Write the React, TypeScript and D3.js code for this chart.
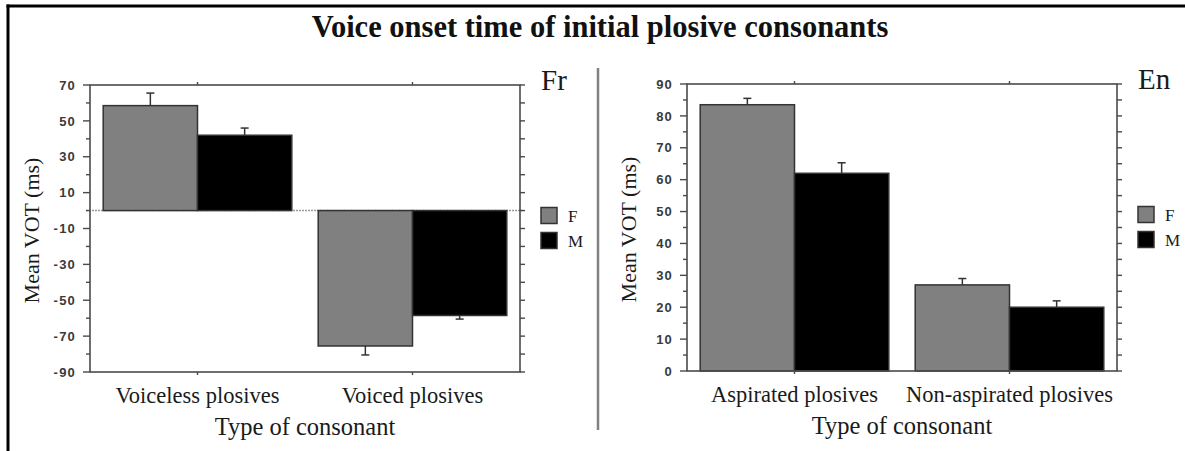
import * as d3 from "d3";

const width = 1185;
const height = 451;

const groups = ["F", "M"];

// French panel
const frCategories = ["Voiceless plosives", "Voiced plosives"];
const frF = [58.5, -75.5];
const frM = [42, -58.5];
const frErrF = [7, 5];
const frErrM = [4, 2];
const frTicks = [-90, -70, -50, -30, -10, 10, 30, 50, 70];
const frMinor = [-80, -60, -40, -20, 0, 20, 40, 60];

// English panel
const enCategories = ["Aspirated plosives", "Non-aspirated plosives"];
const enF = [83.5, 27];
const enM = [62, 20];
const enErrF = [2, 2];
const enErrM = [3.3, 2];
const enTicks = [0, 10, 20, 30, 40, 50, 60, 70, 80, 90];
const enMinor = [5, 15, 25, 35, 45, 55, 65, 75, 85];

const fills: Record<string, string> = { F: "#808080", M: "#000000" };
const axisColor = "#4a4a4a";
const serif = "'Liberation Serif', 'Times New Roman', serif";
const sans = "'Liberation Sans', Arial, sans-serif";

type PanelProps = {
  left: number;
  top: number;
  categories: string[];
  fVals: number[];
  mVals: number[];
  fErr: number[];
  mErr: number[];
  domain: [number, number];
  ticks: number[];
  minor: number[];
  tag: string;
  zeroLine: boolean;
};

const pw = 430;
const ph = 287;

const Panel = ({ left, top, categories, fVals, mVals, fErr, mErr, domain, ticks, minor, tag, zeroLine }: PanelProps) => {
  const x = d3.scaleBand().domain(categories).range([left, left + pw]).padding(0);
  const xs = d3.scaleBand().domain(groups).range([0, x.bandwidth()]).paddingInner(0).paddingOuter(0.14);
  const y = d3.scaleLinear().domain(domain).range([top + ph, top]);
  const allTicks = [...ticks, ...minor];

  const bars = categories.flatMap((c, i) =>
    groups.map((g) => {
      const v = g === "F" ? fVals[i] : mVals[i];
      const e = g === "F" ? fErr[i] : mErr[i];
      const bx = (x(c) ?? 0) + (xs(g) ?? 0);
      const end = v + Math.sign(v) * e;
      return { key: c + g, g, bx, bw: xs.bandwidth(), y0: y(Math.max(0, v)), y1: y(Math.min(0, v)), yv: y(v), ye: y(end) };
    })
  );

  const right = left + pw;
  const bottom = top + ph;
  const midY = (top + bottom) / 2;

  return (
    <g>
      {zeroLine && (
        <line x1={left - 4} x2={right + 4} y1={y(0)} y2={y(0)} stroke="#9a9a9a" strokeWidth={1.5} strokeDasharray="2,1" />
      )}
      {bars.map((b) => (
        <g key={b.key}>
          <line x1={b.bx + b.bw / 2} x2={b.bx + b.bw / 2} y1={b.yv} y2={b.ye} stroke="#333" strokeWidth={1.5} />
          <line x1={b.bx + b.bw / 2 - 4} x2={b.bx + b.bw / 2 + 4} y1={b.ye} y2={b.ye} stroke="#333" strokeWidth={1.5} />
          <rect x={b.bx} y={b.y0} width={b.bw} height={b.y1 - b.y0} fill={fills[b.g]} stroke="#333" strokeWidth={1.5} />
        </g>
      ))}
      {/* frame */}
      <rect x={left} y={top} width={pw} height={ph} fill="none" stroke={axisColor} strokeWidth={1.6} />
      {/* left ticks */}
      {allTicks.map((t) => (
        <line key={"l" + t} x1={left} x2={left - (ticks.includes(t) ? 7 : 4)} y1={y(t)} y2={y(t)} stroke={axisColor} strokeWidth={1.4} />
      ))}
      {allTicks.map((t) => (
        <line key={"r" + t} x1={right} x2={right + 5} y1={y(t)} y2={y(t)} stroke={axisColor} strokeWidth={1.4} />
      ))}
      {ticks.map((t) => (
        <text key={"t" + t} x={left - 14} y={y(t)} dy="0.36em" textAnchor="end" fontFamily={sans} fontWeight="bold" fontSize={13} letterSpacing={1.2} fill="#3a3a3a">
          {t}
        </text>
      ))}
      {categories.map((c) => {
        const cx = (x(c) ?? 0) + x.bandwidth() / 2;
        return (
          <g key={c}>
            <line x1={cx} x2={cx} y1={top} y2={top - 3} stroke={axisColor} strokeWidth={1.4} />
            <line x1={cx} x2={cx} y1={bottom} y2={bottom + 3} stroke={axisColor} strokeWidth={1.4} />
            <text x={cx} y={bottom + 31} textAnchor="middle" fontFamily={serif} fontSize={22.5} fill="#1a1a1a">
              {c}
            </text>
          </g>
        );
      })}
      <text x={left + pw / 2} y={bottom + 63} textAnchor="middle" fontFamily={serif} fontSize={24.5} fill="#1a1a1a">
        Type of consonant
      </text>
      <text transform={`translate(${left - 51},${midY + 2}) rotate(-90)`} textAnchor="middle" fontFamily={serif} fontSize={22} fill="#1a1a1a">
        Mean VOT (ms)
      </text>
      <text x={right + 21} y={top + 5} fontFamily={serif} fontSize={29} fill="#1a1a1a">
        {tag}
      </text>
      {groups.map((g, i) => (
        <g key={g}>
          <rect x={right + 21} y={midY - 21 + i * 25} width={16} height={16} fill={fills[g]} stroke="#333" strokeWidth={1.5} />
          <text x={right + 48} y={midY - 7 + i * 25} fontFamily={serif} fontSize={17} fill="#1a1a1a">
            {g}
          </text>
        </g>
      ))}
    </g>
  );
};

const App = () => {
  return (
    <svg width={width} height={height} style={{ position: "absolute", left: 0, top: 0, background: "#fff" }}>
      <rect x={0} y={0} width={width} height={height} fill="#fff" />
      <line x1={6.5} x2={width} y1={6} y2={6} stroke="#000" strokeWidth={3} />
      <line x1={8} x2={8} y1={4.5} y2={height} stroke="#000" strokeWidth={3} />
      <text x={600} y={37} textAnchor="middle" fontFamily={serif} fontWeight="bold" fontSize={30.5} fill="#111">
        Voice onset time of initial plosive consonants
      </text>
      <line x1={598} x2={598} y1={68} y2={430} stroke="#808080" strokeWidth={2.5} />
      <Panel left={90} top={85} categories={frCategories} fVals={frF} mVals={frM} fErr={frErrF} mErr={frErrM}
        domain={[-90, 70]} ticks={frTicks} minor={frMinor} tag="Fr" zeroLine={true} />
      <Panel left={687} top={84} categories={enCategories} fVals={enF} mVals={enM} fErr={enErrF} mErr={enErrM}
        domain={[0, 90]} ticks={enTicks} minor={enMinor} tag="En" zeroLine={false} />
    </svg>
  );
};

export default App;
